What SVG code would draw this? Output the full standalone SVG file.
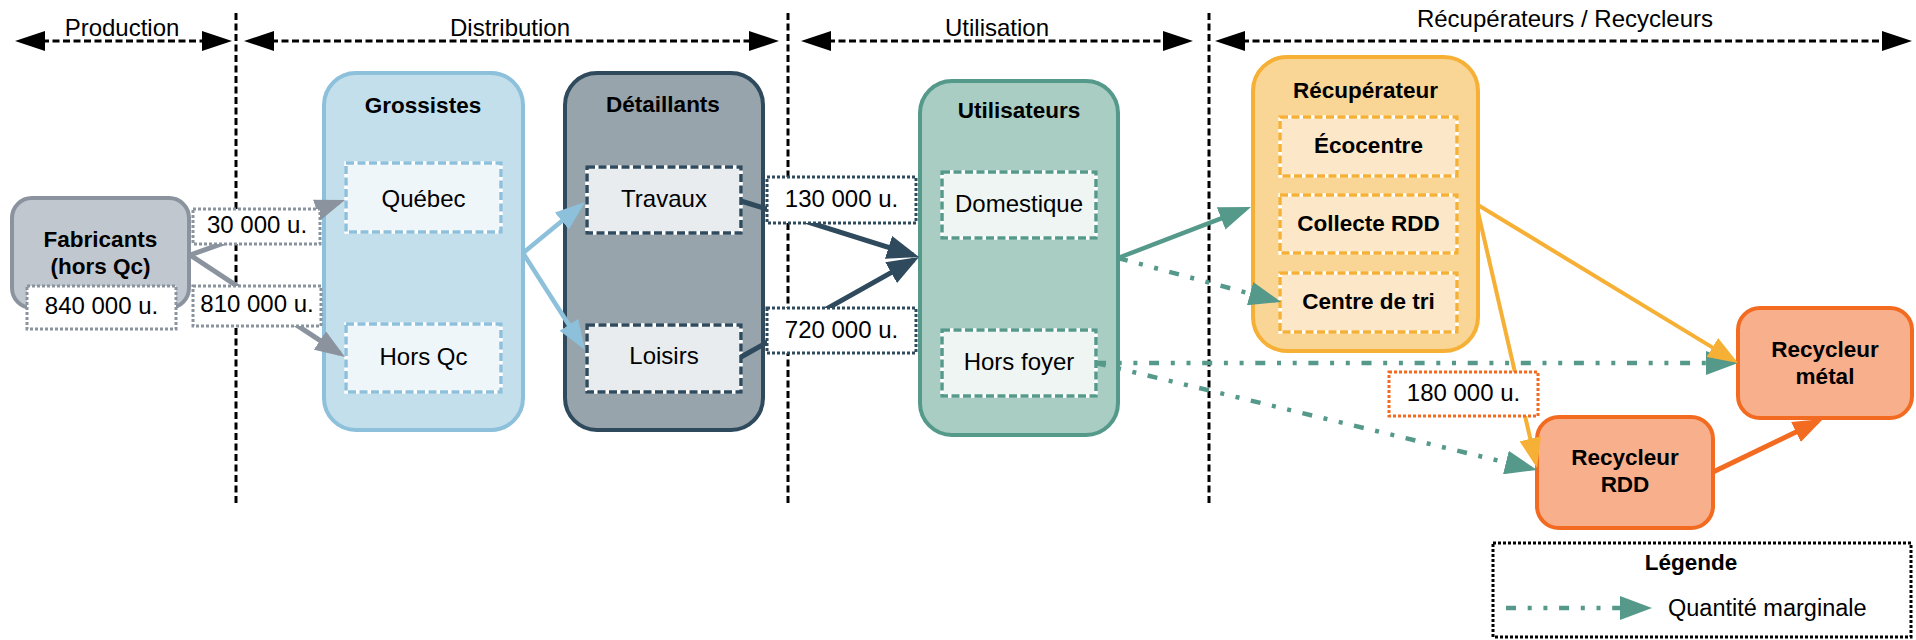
<svg xmlns="http://www.w3.org/2000/svg" width="1916" height="640" viewBox="0 0 1916 640">
<style>
  text { font-family: "Liberation Sans", Arial, sans-serif; fill: #000; text-anchor: middle; }
  .hdr { font-size: 24px; }
  .ttl { font-size: 22.5px; font-weight: bold; }
  .lbl { font-size: 24px; }
  .divider { stroke: #000; stroke-width: 3; stroke-dasharray: 7 3.5; fill: none; }
  .phase { stroke: #000; stroke-width: 3; stroke-dasharray: 7 3.5; fill: none; marker-start: url(#ahBlack); marker-end: url(#ahBlack); }
  .under { stroke: #fff; stroke-width: 3.5; }
  .inner { fill: none; stroke-width: 3.5; stroke-dasharray: 8 3.5; }
  .qty { fill: #fff; stroke-width: 3; stroke-dasharray: 3 2; }
  .c { fill: none; stroke-linecap: butt; }
  .dd { stroke-dasharray: 10 11.7 4 11.7 4 11.7; }
</style>
<defs>
  <marker id="ahBlack" markerUnits="userSpaceOnUse" markerWidth="30" markerHeight="22" refX="24" refY="10" orient="auto-start-reverse"><path d="M0,0 L30,10 L0,20 z" fill="#000"/></marker>
  <marker id="ahGray" markerUnits="userSpaceOnUse" markerWidth="30" markerHeight="22" refX="24" refY="11" orient="auto"><path d="M0,0 L30,11 L0,22 z" fill="#8A939E"/></marker>
  <marker id="ahBlue" markerUnits="userSpaceOnUse" markerWidth="30" markerHeight="22" refX="24" refY="11" orient="auto"><path d="M0,0 L30,11 L0,22 z" fill="#8DC0DB"/></marker>
  <marker id="ahDark" markerUnits="userSpaceOnUse" markerWidth="32" markerHeight="24" refX="26" refY="12" orient="auto"><path d="M0,0 L32,12 L0,24 z" fill="#2E4A5C"/></marker>
  <marker id="ahTeal" markerUnits="userSpaceOnUse" markerWidth="32" markerHeight="24" refX="26" refY="12" orient="auto"><path d="M0,0 L32,12 L0,24 z" fill="#55998A"/></marker>
  <marker id="ahYellow" markerUnits="userSpaceOnUse" markerWidth="30" markerHeight="22" refX="24" refY="11" orient="auto"><path d="M0,0 L30,11 L0,22 z" fill="#F6B035"/></marker>
  <marker id="ahOrange" markerUnits="userSpaceOnUse" markerWidth="30" markerHeight="22" refX="24" refY="11" orient="auto"><path d="M0,0 L30,11 L0,22 z" fill="#F26B21"/></marker>
</defs>
<rect x="0" y="0" width="1916" height="640" fill="#fff"/>

<g id="phases">
  <line class="divider" x1="236" y1="13" x2="236" y2="506"/>
  <line class="divider" x1="788" y1="13" x2="788" y2="506"/>
  <line class="divider" x1="1209" y1="13" x2="1209" y2="506"/>
  <line class="phase" x1="21" y1="41" x2="226" y2="41"/>
  <line class="phase" x1="250" y1="41" x2="773" y2="41"/>
  <line class="phase" x1="807" y1="41" x2="1187" y2="41"/>
  <line class="phase" x1="1221" y1="41" x2="1906" y2="41"/>
  <text class="hdr" x="122" y="36">Production</text>
  <text class="hdr" x="510" y="36">Distribution</text>
  <text class="hdr" x="997" y="36">Utilisation</text>
  <text class="hdr" x="1565" y="27">Récupérateurs / Recycleurs</text>
</g>

<g id="nodes">
  <g id="fabricants">
    <rect x="12" y="198" width="177" height="110" rx="20" fill="#C1C7CE" stroke="#8A939E" stroke-width="4"/>
    <text class="ttl" x="100.5" y="247">Fabricants</text>
    <text class="ttl" x="100.5" y="274">(hors Qc)</text>
    <rect class="qty" x="27" y="286" width="149" height="43" stroke="#8A939E"/>
    <text class="lbl" x="101.5" y="314">840 000 u.</text>
  </g>
  <g id="grossistes">
    <rect x="324" y="73" width="199" height="357" rx="32" fill="#C3DFEC" stroke="#8DC0DB" stroke-width="4"/>
    <text class="ttl" x="423" y="113">Grossistes</text>
    <g id="quebec">
      <rect x="346" y="163" width="155" height="69" fill="#EFF6FA" class="under"/>
      <rect x="346" y="163" width="155" height="69" class="inner" stroke="#8DC0DB"/>
      <text class="lbl" x="423.5" y="207">Québec</text>
    </g>
    <g id="grossistes-horsqc">
      <rect x="346" y="324" width="155" height="68" fill="#EFF6FA" class="under"/>
      <rect x="346" y="324" width="155" height="68" class="inner" stroke="#8DC0DB"/>
      <text class="lbl" x="423.5" y="365">Hors Qc</text>
    </g>
  </g>
  <g id="detaillants">
    <rect x="565" y="73" width="198" height="357" rx="32" fill="#97A4AC" stroke="#2E4A5C" stroke-width="4"/>
    <text class="ttl" x="663" y="112">Détaillants</text>
    <g id="travaux">
      <rect x="587" y="167" width="154" height="66" fill="#E8ECEE" class="under"/>
      <rect x="587" y="167" width="154" height="66" class="inner" stroke="#2E4A5C"/>
      <text class="lbl" x="664" y="207">Travaux</text>
    </g>
    <g id="loisirs">
      <rect x="587" y="325" width="154" height="67" fill="#E8ECEE" class="under"/>
      <rect x="587" y="325" width="154" height="67" class="inner" stroke="#2E4A5C"/>
      <text class="lbl" x="664" y="364">Loisirs</text>
    </g>
  </g>
  <g id="utilisateurs">
    <rect x="920" y="81" width="198" height="354" rx="32" fill="#A9CDC3" stroke="#55998A" stroke-width="4"/>
    <text class="ttl" x="1019" y="118">Utilisateurs</text>
    <g id="domestique">
      <rect x="942" y="172" width="154" height="66" fill="#EEF5F3" class="under"/>
      <rect x="942" y="172" width="154" height="66" class="inner" stroke="#55998A"/>
      <text class="lbl" x="1019" y="212">Domestique</text>
    </g>
    <g id="horsfoyer">
      <rect x="942" y="330" width="154" height="66" fill="#EEF5F3" class="under"/>
      <rect x="942" y="330" width="154" height="66" class="inner" stroke="#55998A"/>
      <text class="lbl" x="1019" y="370">Hors foyer</text>
    </g>
  </g>
  <g id="recuperateur">
    <rect x="1253" y="57" width="225" height="294" rx="34" fill="#F9D596" stroke="#F6B035" stroke-width="4"/>
    <text class="ttl" x="1365.5" y="98">Récupérateur</text>
    <g id="ecocentre">
      <rect x="1280" y="117" width="177" height="59" fill="#FCE8C8" class="under"/>
      <rect x="1280" y="117" width="177" height="59" class="inner" stroke="#F6B035"/>
      <text class="ttl" x="1368.5" y="153">Écocentre</text>
    </g>
    <g id="collecte">
      <rect x="1280" y="195" width="177" height="58" fill="#FCE8C8" class="under"/>
      <rect x="1280" y="195" width="177" height="58" class="inner" stroke="#F6B035"/>
      <text class="ttl" x="1368.5" y="231">Collecte RDD</text>
    </g>
    <g id="centretri">
      <rect x="1280" y="273" width="177" height="59" fill="#FCE8C8" class="under"/>
      <rect x="1280" y="273" width="177" height="59" class="inner" stroke="#F6B035"/>
      <text class="ttl" x="1368.5" y="309">Centre de tri</text>
    </g>
  </g>
  <g id="recycleur-metal">
    <rect x="1738" y="308" width="174" height="110" rx="22" fill="#F8B08C" stroke="#F26B21" stroke-width="4"/>
    <text class="ttl" x="1825" y="357">Recycleur</text>
    <text class="ttl" x="1825" y="384">métal</text>
  </g>
  <g id="recycleur-rdd">
    <rect x="1537" y="417" width="176" height="111" rx="22" fill="#F8B08C" stroke="#F26B21" stroke-width="4"/>
    <text class="ttl" x="1625" y="465">Recycleur</text>
    <text class="ttl" x="1625" y="492">RDD</text>
  </g>
</g>

<g id="connectors">
  <line class="c" x1="190" y1="255" x2="339.3" y2="202" stroke="#8A939E" stroke-width="5" marker-end="url(#ahGray)"/>
  <line class="c" x1="190" y1="255" x2="340" y2="353.7" stroke="#8A939E" stroke-width="5" marker-end="url(#ahGray)"/>
  <line class="c" x1="523" y1="253" x2="580.4" y2="205.8" stroke="#8DC0DB" stroke-width="4.5" marker-end="url(#ahBlue)"/>
  <line class="c" x1="523" y1="253" x2="581.8" y2="345" stroke="#8DC0DB" stroke-width="4.5" marker-end="url(#ahBlue)"/>
  <line class="c" x1="741" y1="201" x2="913.3" y2="255.2" stroke="#2E4A5C" stroke-width="5" marker-end="url(#ahDark)"/>
  <line class="c" x1="741" y1="357" x2="913.8" y2="259.9" stroke="#2E4A5C" stroke-width="5" marker-end="url(#ahDark)"/>
  <line class="c" x1="1118" y1="258" x2="1245.4" y2="209.1" stroke="#55998A" stroke-width="4.5" marker-end="url(#ahTeal)"/>
  <line class="c dd" x1="1118" y1="258" x2="1275.2" y2="300.4" stroke="#55998A" stroke-width="4.5" marker-end="url(#ahTeal)"/>
  <line class="c dd" x1="1096" y1="363" x2="1732" y2="363" stroke="#55998A" stroke-width="4.5" marker-end="url(#ahTeal)"/>
  <line class="c dd" x1="1096" y1="363" x2="1531.2" y2="468.6" stroke="#55998A" stroke-width="4.5" marker-end="url(#ahTeal)"/>
  <line class="c" x1="1478" y1="205" x2="1732.9" y2="359.9" stroke="#F6B035" stroke-width="4" marker-end="url(#ahYellow)"/>
  <line class="c" x1="1478" y1="212" x2="1535.7" y2="462.2" stroke="#F6B035" stroke-width="4" marker-end="url(#ahYellow)"/>
  <line class="c" x1="1713" y1="472" x2="1817.6" y2="421.6" stroke="#F26B21" stroke-width="5" marker-end="url(#ahOrange)"/>
  <g id="qty-labels">
    <rect class="qty" x="193" y="209" width="127" height="35" stroke="#8A939E"/>
    <text class="lbl" x="257" y="233">30 000 u.</text>
    <rect class="qty" x="193" y="286" width="128" height="40" stroke="#8A939E"/>
    <text class="lbl" x="257" y="312">810 000 u.</text>
    <rect class="qty" x="767" y="177" width="149" height="46" stroke="#2E4A5C"/>
    <text class="lbl" x="841.5" y="207">130 000 u.</text>
    <rect class="qty" x="767" y="308" width="149" height="45" stroke="#2E4A5C"/>
    <text class="lbl" x="841.5" y="338">720 000 u.</text>
    <rect class="qty" x="1389" y="372" width="149" height="44" stroke="#F26B21"/>
    <text class="lbl" x="1463.5" y="401">180 000 u.</text>
  </g>
</g>

<g id="legend">
  <rect x="1493" y="543" width="418" height="94" fill="#fff" stroke="#000" stroke-width="3" stroke-dasharray="3 2"/>
  <text class="ttl" x="1691" y="570">Légende</text>
  <line class="c dd" x1="1506" y1="608" x2="1646" y2="608" stroke="#55998A" stroke-width="4.5" marker-end="url(#ahTeal)"/>
  <text class="lbl" x="1668" y="616" style="text-anchor:start; font-size:23.5px">Quantité marginale</text>
</g>
</svg>
